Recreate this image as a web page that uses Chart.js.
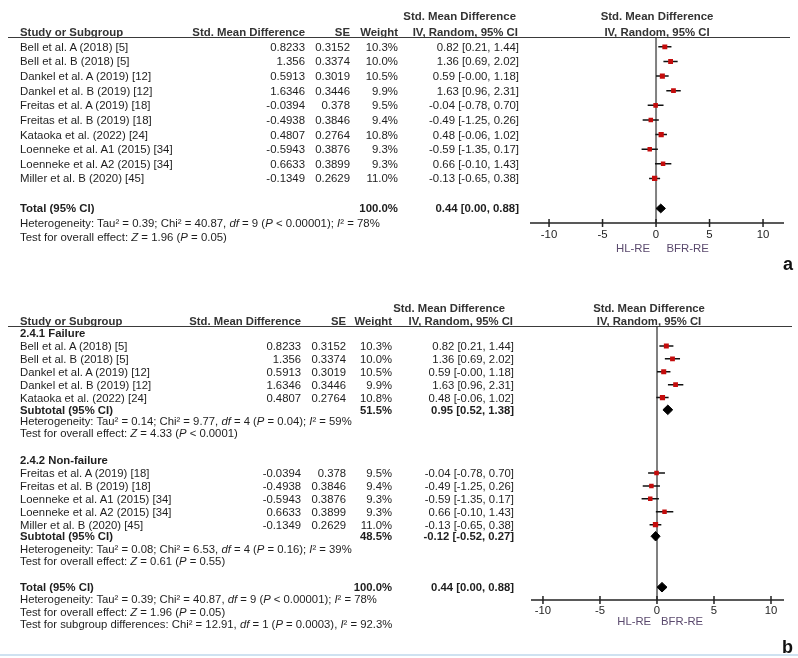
<!DOCTYPE html>
<html><head><meta charset="utf-8">
<script src="https://cdn.jsdelivr.net/npm/chart.js@4.4.1/dist/chart.umd.min.js"></script>
<style>
body{margin:0;background:#fff;width:798px;height:658px;overflow:hidden;position:relative;font-family:"Liberation Sans",Arial,sans-serif;color:#1e1e1e}
canvas{position:absolute;left:0}
.t{position:absolute;white-space:nowrap;line-height:14px;height:14px}
.pa{font-size:11.4px}
.pb{font-size:11.3px}
.b{font-weight:bold}
.h{font-weight:bold;color:#333}
.ax{color:#5b4a6e}
.lab{font-size:18px;font-weight:bold;line-height:20px;height:20px;color:#111}
.hl{position:absolute;height:0;border-top:1.5px solid #3a3a3a}
</style></head><body>
<canvas id="ca" width="798" height="290" style="top:0"></canvas>
<canvas id="cb" width="798" height="368" style="top:290px"></canvas>
<div class="hl" style="left:0;width:798px;top:654px;border-top:2px solid #cfe2f1"></div>
<script>
// ---------- data ----------
const studies = ["Bell et al. A (2018) [5]","Bell et al. B (2018) [5]","Dankel et al. A (2019) [12]","Dankel et al. B (2019) [12]","Freitas et al. A (2019) [18]","Freitas et al. B (2019) [18]","Kataoka et al. (2022) [24]","Loenneke et al. A1 (2015) [34]","Loenneke et al. A2 (2015) [34]","Miller et al. B (2020) [45]"];
const smd = [0.8233,1.356,0.5913,1.6346,-0.0394,-0.4938,0.4807,-0.5943,0.6633,-0.1349];
const se = [0.3152,0.3374,0.3019,0.3446,0.378,0.3846,0.2764,0.3876,0.3899,0.2629];
const weights = [10.3,10.0,10.5,9.9,9.5,9.4,10.8,9.3,9.3,11.0];
const est = [0.82,1.36,0.59,1.63,-0.04,-0.49,0.48,-0.59,0.66,-0.13];
const ciLow = [0.21,0.69,-0.00,0.96,-0.78,-1.25,-0.06,-1.35,-0.10,-0.65];
const ciHigh = [1.44,2.02,1.18,2.31,0.70,0.26,1.02,0.17,1.43,0.38];
const groupFailure = [0,1,2,3,6];
const groupNonFailure = [4,5,7,8,9];
const groupTitles = ["2.4.1 Failure","2.4.2 Non-failure"];
const summaryLabels = ["Total (95% CI)","Subtotal (95% CI)","Subtotal (95% CI)"];
const summaryWeights = [100.0,51.5,48.5];
const summaryEst = [0.44,0.95,-0.12];
const summaryLow = [0.00,0.52,-0.52];
const summaryHigh = [0.88,1.38,0.27];
const hetTexts = [
  "Heterogeneity: Tau² = 0.39; Chi² = 40.87, <i>df</i> = 9 (<i>P</i> &lt; 0.00001); <i>I</i>² = 78%",
  "Heterogeneity: Tau² = 0.14; Chi² = 9.77, <i>df</i> = 4 (<i>P</i> = 0.04); <i>I</i>² = 59%",
  "Heterogeneity: Tau² = 0.08; Chi² = 6.53, <i>df</i> = 4 (<i>P</i> = 0.16); <i>I</i>² = 39%"];
const effectTexts = [
  "Test for overall effect: <i>Z</i> = 1.96 (<i>P</i> = 0.05)",
  "Test for overall effect: <i>Z</i> = 4.33 (<i>P</i> &lt; 0.0001)",
  "Test for overall effect: <i>Z</i> = 0.61 (<i>P</i> = 0.55)"];
const subgroupText = "Test for subgroup differences: Chi² = 12.91, <i>df</i> = 1 (<i>P</i> = 0.0003), <i>I</i>² = 92.3%";
const tickValues = [-10,-5,0,5,10];
const axisLabels = ["HL-RE","BFR-RE"];
const headers = ["Study or Subgroup","Std. Mean Difference","SE","Weight","Std. Mean Difference","IV, Random, 95% CI"];

// ---------- helpers ----------
const W = 798;
function f2(v){ return Object.is(v,-0) ? "-0.00" : v.toFixed(2); }
function ciText(e,l,h){ return f2(e)+" ["+f2(l)+", "+f2(h)+"]"; }
function T(html,x,y,align,cls){
  const d=document.createElement('div');
  d.className='t '+(cls||'');
  d.innerHTML=html;
  const lh = cls && cls.indexOf('lab')>=0 ? 10 : 7;
  d.style.top=(y-lh)+'px';
  if(align==='right') d.style.right=(W-x)+'px';
  else if(align==='center'){ d.style.left=x+'px'; d.style.transform='translateX(-50%)'; }
  else d.style.left=x+'px';
  document.body.appendChild(d);
}
function HL(x1,x2,y){
  const d=document.createElement('div'); d.className='hl';
  d.style.left=x1+'px'; d.style.width=(x2-x1)+'px'; d.style.top=y+'px';
  document.body.appendChild(d);
}

function buildPanel(id,cfg){
  const ds=[];
  ds.push({type:'line',order:10,data:[{x:0,y:cfg.zeroTop},{x:0,y:cfg.axisRow}],borderColor:'#808080',borderWidth:2,pointRadius:0});
  ds.push({type:'line',order:9,data:[{x:cfg.xMin,y:cfg.axisRow},{x:cfg.xMax,y:cfg.axisRow}],borderColor:'#222',borderWidth:1.5,pointRadius:0});
  ds.push({type:'scatter',order:8,data:tickValues.map(v=>({x:v,y:cfg.axisRow})),pointStyle:'line',pointRotation:90,pointRadius:4,pointBorderColor:'#222',pointBorderWidth:1.5});
  cfg.studyRows.forEach(s=>ds.push({type:'line',order:5,data:[{x:ciLow[s.i],y:s.row},{x:ciHigh[s.i],y:s.row}],borderColor:'#111',borderWidth:1.5,pointRadius:0}));
  ds.push({type:'scatter',order:1,data:cfg.studyRows.map(s=>({x:est[s.i],y:s.row})),pointStyle:'rect',pointRadius:cfg.studyRows.map(s=>weights[s.i]*0.34),pointBackgroundColor:'#c40c0c',pointBorderWidth:0,pointBorderColor:'#c40c0c'});
  cfg.summaries.forEach(s=>ds.push({type:'line',order:0,fill:'shape',tension:0,
    data:[{x:summaryLow[s.k],y:s.row},{x:summaryEst[s.k],y:s.row-cfg.dh},{x:summaryHigh[s.k],y:s.row},{x:summaryEst[s.k],y:s.row+cfg.dh},{x:summaryLow[s.k],y:s.row}],
    borderColor:'#000',backgroundColor:'#000',borderWidth:1,pointRadius:0}));
  return new Chart(document.getElementById(id),{type:'scatter',data:{datasets:ds},options:{
    responsive:false,animation:false,devicePixelRatio:1,events:[],
    layout:{padding:{left:cfg.padL,right:cfg.padR,top:0,bottom:0}},
    plugins:{legend:{display:false},tooltip:{enabled:false}},
    scales:{
      x:{type:'linear',display:false,min:cfg.xMin,max:cfg.xMax},
      y:{type:'linear',display:false,reverse:true,min:-cfg.y0/cfg.step,max:(cfg.H-cfg.y0)/cfg.step}
    }}});
}

// ---------- panel a ----------
const cfgA={top:0,H:290,y0:43,step:15.2,xMin:-11.78,xMax:11.96,padL:530,padR:W-784,
  zeroTop:-0.6,axisRow:12.05,dh:0.3,
  studyRows:studies.map((_,i)=>({i,row:i})),
  summaries:[{k:0,row:11.05}]};
const chA=buildPanel('ca',cfgA);
(function(){
  const Y=r=>cfgA.top+chA.scales.y.getPixelForValue(r);
  const X=v=>chA.scales.x.getPixelForValue(v);
  const c='pa';
  T(headers[4],516,Y(-2.1),'right',c+' h');
  T(headers[4],X(0)+1,Y(-2.1),'center',c+' h');
  T(headers[0],20,Y(-1.05),'left',c+' h');
  T(headers[1],305,Y(-1.05),'right',c+' h');
  T(headers[2],350,Y(-1.05),'right',c+' h');
  T(headers[3],398,Y(-1.05),'right',c+' h');
  T(headers[5],518,Y(-1.05),'right',c+' h');
  T(headers[5],X(0)+1,Y(-1.05),'center',c+' h');
  HL(8,790,Y(-0.6)-1);
  studies.forEach((s,i)=>{
    T(s,20,Y(i),'left',c);
    T(String(smd[i]),305,Y(i),'right',c);
    T(String(se[i]),350,Y(i),'right',c);
    T(weights[i].toFixed(1)+'%',398,Y(i),'right',c);
    T(ciText(est[i],ciLow[i],ciHigh[i]),519,Y(i),'right',c);
  });
  T(summaryLabels[0],20,Y(11.05),'left',c+' b');
  T(summaryWeights[0].toFixed(1)+'%',398,Y(11.05),'right',c+' b');
  T(ciText(summaryEst[0],summaryLow[0],summaryHigh[0]),519,Y(11.05),'right',c+' b');
  T(hetTexts[0],20,Y(12.05),'left',c);
  T(effectTexts[0],20,Y(13),'left',c);
  tickValues.forEach(v=>T(String(v),X(v),Y(12.05)+11,'center',c));
  T(axisLabels[0],X(-2.15),Y(12.05)+25,'center',c+' ax');
  T(axisLabels[1],X(2.95),Y(12.05)+25,'center',c+' ax');
  T('a',793,264,'right','lab');
})();

// ---------- panel b ----------
const rowsB={title1:-1,sub1:4.95,het1:5.85,eff1:6.75,title2:8.85,g2:9.85,sub2:14.75,het2:15.7,eff2:16.65,tot:18.7,hetT:19.65,effT:20.6,subg:21.55};
const cfgB={top:290,H:368,y0:52,step:13.3,xMin:-11.05,xMax:11.14,padL:531,padR:W-784,
  zeroTop:-1.5,axisRow:19.7,dh:0.37,
  studyRows:groupFailure.map((i,j)=>({i,row:j})).concat(groupNonFailure.map((i,j)=>({i,row:rowsB.g2+j}))),
  summaries:[{k:1,row:rowsB.sub1},{k:2,row:rowsB.sub2},{k:0,row:rowsB.tot}]};
const chB=buildPanel('cb',cfgB);
(function(){
  const Y=r=>cfgB.top+chB.scales.y.getPixelForValue(r);
  const X=v=>chB.scales.x.getPixelForValue(v);
  const c='pb';
  T(headers[4],505,Y(-2.93),'right',c+' h');
  T(headers[4],649,Y(-2.93),'center',c+' h');
  T(headers[0],20,Y(-1.95),'left',c+' h');
  T(headers[1],301,Y(-1.95),'right',c+' h');
  T(headers[2],346,Y(-1.95),'right',c+' h');
  T(headers[3],392,Y(-1.95),'right',c+' h');
  T(headers[5],513,Y(-1.95),'right',c+' h');
  T(headers[5],649,Y(-1.95),'center',c+' h');
  HL(8,792,Y(-1.5)-1);
  T(groupTitles[0],20,Y(rowsB.title1),'left',c+' b');
  T(groupTitles[1],20,Y(rowsB.title2),'left',c+' b');
  cfgB.studyRows.forEach(s=>{
    const i=s.i, y=Y(s.row);
    T(studies[i],20,y,'left',c);
    T(String(smd[i]),301,y,'right',c);
    T(String(se[i]),346,y,'right',c);
    T(weights[i].toFixed(1)+'%',392,y,'right',c);
    T(ciText(est[i],ciLow[i],ciHigh[i]),514,y,'right',c);
  });
  cfgB.summaries.forEach(s=>{
    const y=Y(s.row);
    T(summaryLabels[s.k],20,y,'left',c+' b');
    T(summaryWeights[s.k].toFixed(1)+'%',392,y,'right',c+' b');
    T(ciText(summaryEst[s.k],summaryLow[s.k],summaryHigh[s.k]),514,y,'right',c+' b');
  });
  T(hetTexts[1],20,Y(rowsB.het1),'left',c);
  T(effectTexts[1],20,Y(rowsB.eff1),'left',c);
  T(hetTexts[2],20,Y(rowsB.het2),'left',c);
  T(effectTexts[2],20,Y(rowsB.eff2),'left',c);
  T(hetTexts[0],20,Y(rowsB.hetT),'left',c);
  T(effectTexts[0],20,Y(rowsB.effT),'left',c);
  T(subgroupText,20,Y(rowsB.subg),'left',c);
  tickValues.forEach(v=>T(String(v),X(v),Y(cfgB.axisRow)+10,'center',c));
  T(axisLabels[0],X(-2.0),Y(cfgB.axisRow)+21,'center',c+' ax');
  T(axisLabels[1],X(2.2),Y(cfgB.axisRow)+21,'center',c+' ax');
  T('b',793,647,'right','lab');
})();
</script>
</body></html>
